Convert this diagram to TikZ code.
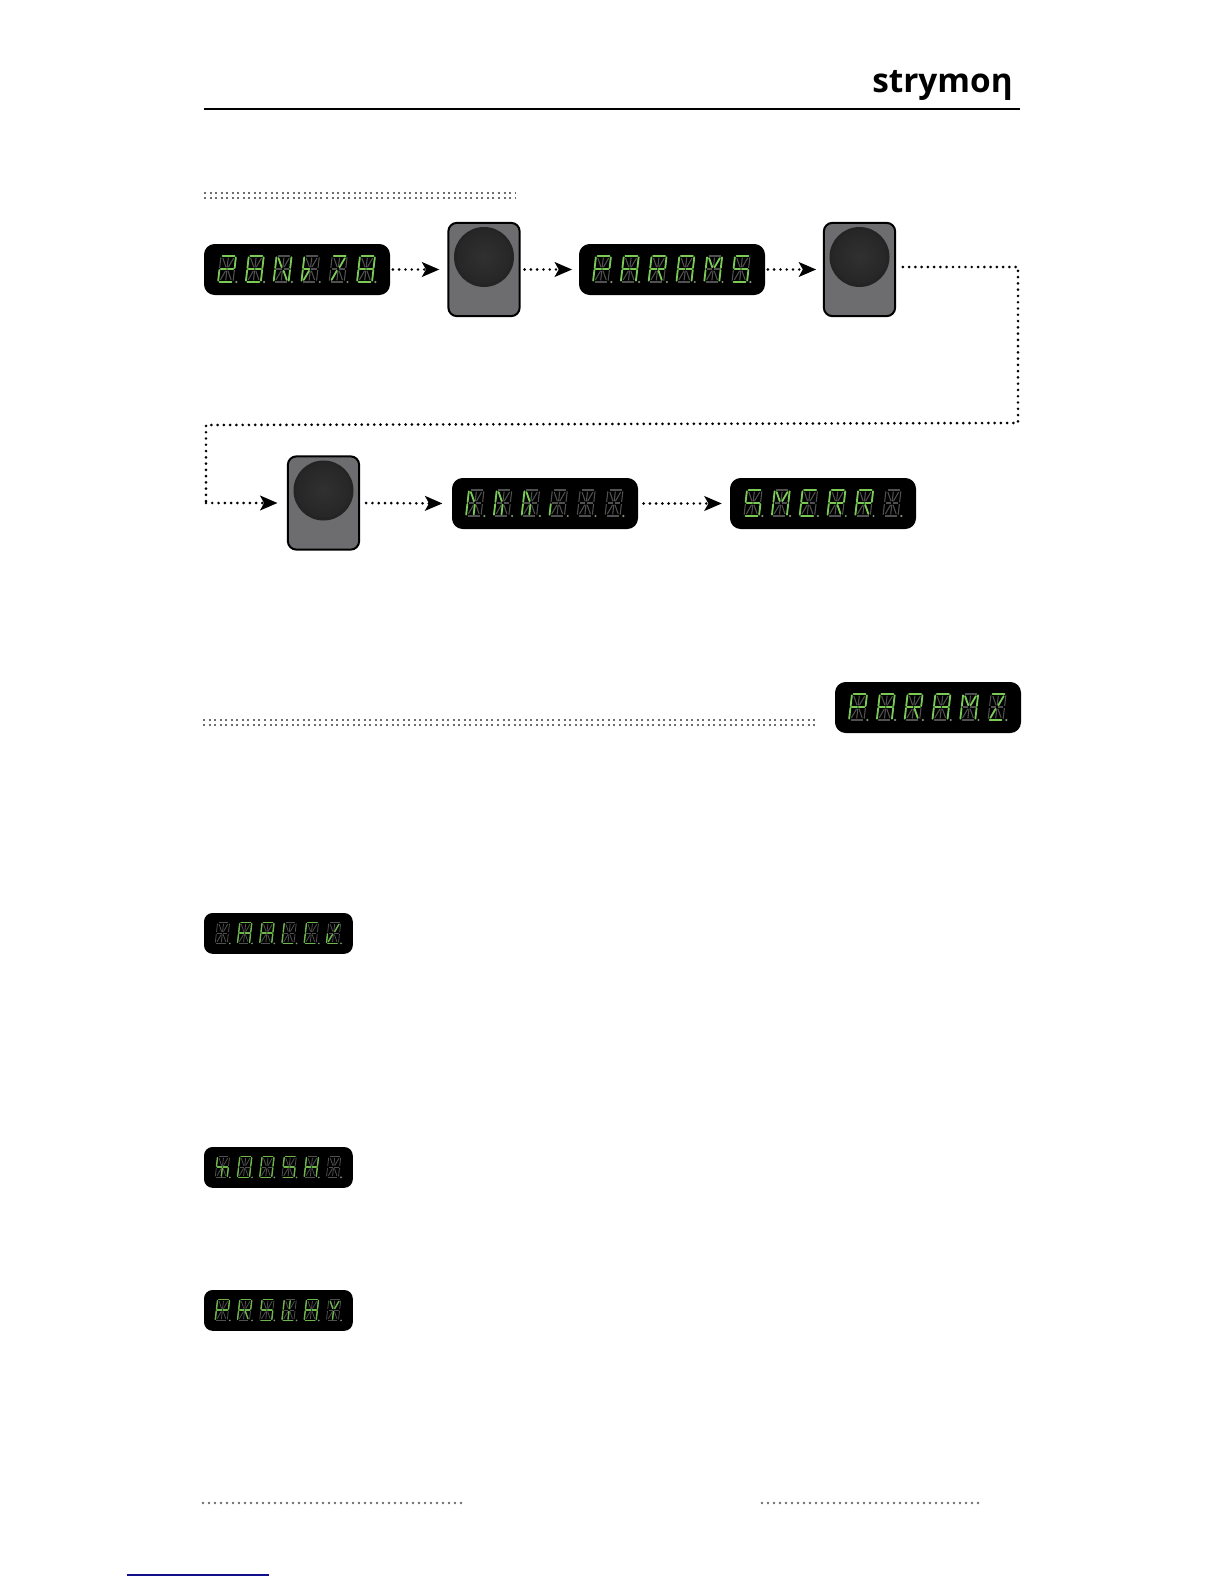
\documentclass[tikz,border=0pt]{standalone}
\usepackage{fontspec}
\newfontfamily\logofont{Open Sans}
\usetikzlibrary{arrows.meta}
\definecolor{litgreen}{HTML}{7ACA55}
\definecolor{unlit}{HTML}{505050}
\definecolor{dotgray}{HTML}{6E6E6E}
\definecolor{btnfill}{HTML}{6D6C6E}
\definecolor{linkblue}{HTML}{10108C}
\tikzset{
  lcdbox/.style={fill=black,inner sep=0pt,draw=none},
  btnbox/.style={fill=btnfill,draw=black,line width=1.5pt,rounded corners=6.5pt,inner sep=0pt,
    minimum width=53.5pt,minimum height=70pt},
  knobrim/.style={circle,fill=black!86,inner sep=0pt,minimum size=45pt},
  seglit/.style={draw=litgreen,line width=1.35pt,line cap=round},
  segoff/.style={draw=unlit,line width=.8pt},
  seglits/.style={draw=litgreen!90!black,line width=1.05pt,line cap=round},
  segoffs/.style={draw=unlit,line width=.6pt},
  dotband/.style={draw=dotgray,line width=1.5pt,dash pattern=on 1.5pt off 2.66pt},
  dotrule/.style={draw=dotgray,line width=2.1pt,line cap=round,dash pattern=on 0pt off 4.5pt},
  flow/.style={draw=black,line width=2.2pt,line cap=round,dash pattern=on 0pt off 4.7pt,
    -{Stealth[length=13pt,width=11pt,inset=3pt]}},
  flowline/.style={draw=black,line width=2.2pt,line cap=round,dash pattern=on 0pt off 4.7pt},
}
% the fourteen segments and the point of one display digit
\def\lcsa#1{\draw[#1](.1,0)--(.9,0);}
\def\lcsb#1{\draw[#1](1,.05)--(1,.46);}
\def\lcsc#1{\draw[#1](1,.54)--(1,.95);}
\def\lcsd#1{\draw[#1](.1,1)--(.9,1);}
\def\lcse#1{\draw[#1](0,.54)--(0,.95);}
\def\lcsf#1{\draw[#1](0,.05)--(0,.46);}
\def\lcsg#1{\draw[#1](.08,.5)--(.44,.5);}
\def\lcsh#1{\draw[#1](.56,.5)--(.92,.5);}
\def\lcsi#1{\draw[#1](.14,.08)--(.42,.43);}
\def\lcsj#1{\draw[#1](.5,.06)--(.5,.44);}
\def\lcsk#1{\draw[#1](.86,.08)--(.58,.43);}
\def\lcsl#1{\draw[#1](.42,.57)--(.14,.92);}
\def\lcsm#1{\draw[#1](.5,.56)--(.5,.94);}
\def\lcsn#1{\draw[#1](.58,.57)--(.86,.92);}
\def\lcsz#1{}
% name, left, top, scale, off style, lit style, digits
\newcommand\lcd[7]{%
  \node[lcdbox,rounded corners=#4*8pt,minimum width=#4*139.5pt,minimum height=#4*38.25pt]
    (#1) at (#2+93*#4,#3+25.5*#4) {};
  \foreach \dig [count=\n from 0] in {#7}{%
    \begin{scope}[shift={(#2+17*#4+27.8*#4*\n,#3+12*#4)},
        x={(#4*11.25pt,0pt)},y={(-#4*2.25pt,-#4*19.5pt)}]
      \foreach \sg in {a,b,c,d,e,f,g,h,i,j,k,l,m,n}{\csname lcs\sg\endcsname{#5}}
      \foreach \sg in \dig {\csname lcs\sg\endcsname{#6}}
      \fill[gray!70!litgreen] (1.22,1) circle[radius=#4*.9pt];
    \end{scope}}%
}
\newcommand\btn[3]{%
  \node[btnbox] (#1) at (#2,#3) {};
  \node[knobrim] (#1k) at (#2,#3-12.5) {};
  \shade[inner color=black!81,outer color=black!85] (#1k.center) ++(0,-.5) circle[radius=20.5pt];
}
\begin{document}
\begin{tikzpicture}[x=.75pt,y=-.75pt]
\useasboundingbox (0,0) rectangle (1224,1584);
\fill[white] (0,0) rectangle (1224,1584);

% header
\node[inner sep=0pt,anchor=base east,font=\logofont\bfseries\fontsize{25}{25}\selectfont] (logo) at (1013,93) {strymoη};
\coordinate (ruleL) at (204,109);
\coordinate (ruleR) at (1020,109);
\draw[black,line width=1.3pt] (ruleL) -- (ruleR);

% dotted bands
\coordinate (b1a) at (204,193); \coordinate (b1b) at (515,193);
\coordinate (b1c) at (204,198); \coordinate (b1d) at (515,198);
\draw[dotband] (b1a) -- (b1b);
\draw[dotband] (b1c) -- (b1d);
\coordinate (b2a) at (203,720); \coordinate (b2b) at (816,720);
\coordinate (b2c) at (203,725); \coordinate (b2d) at (816,725);
\draw[dotband] (b2a) -- (b2b);
\draw[dotband] (b2c) -- (b2d);

% displays
\lcd{d1}{204}{244}{1}{segoff}{seglit}{{a,b,g,h,e,d},{a,b,c,d,e,f,g,h},{e,f,b,c,i,n},{e,f,g,l},{a,k,l},{a,b,c,d,e,f,g,h}}
\lcd{d2}{579}{244}{1}{segoff}{seglit}{{a,b,e,f,g,h},{a,b,c,e,f,g,h},{a,b,e,f,g,h,n},{a,b,c,e,f,g,h},{b,c,e,f,i,k},{a,f,g,h,c,d}}
\lcd{d3}{452}{478}{1}{segoff}{seglit}{{f,e,i,m},{f,e,i,m},{f,e,i,m},{e},{z},{z}}
\lcd{d4}{730}{478}{1}{segoff}{seglit}{{a,f,g,h,c,d},{b,c,e,f,i,k},{a,f,g,e,d},{a,b,e,f,g,h,n},{a,b,e,f,g,h,n},{z}}
\lcd{d5}{835}{682}{1}{segoff}{seglit}{{a,b,e,f,g,h},{a,b,c,e,f,g,h},{a,b,e,f,g,h,n},{a,b,c,e,f,g,h},{b,c,e,f,i,k},{a,k,l,d}}
\lcd{s1}{204}{913}{.8}{segoffs}{seglits}{{z},{a,b,c,e,f,g,h},{a,b,c,e,f,g,h},{e,f,d},{a,e,f,d},{k,l,e,d}}
\lcd{s2}{204}{1147}{.8}{segoffs}{seglits}{{f,g,h,c,m},{a,b,c,d,e,f},{a,b,c,d,e,f},{a,f,g,h,c,d},{b,c,e,f,g,h},{z}}
\lcd{s3}{204}{1290}{.8}{segoffs}{seglits}{{a,b,e,f,g,h},{a,b,e,f,g,h,n},{a,f,g,h,c,d},{e,f,d,j,m},{a,b,c,d,e,f,g,h},{i,k,m}}

% footswitches
\btn{k1}{484}{269.5}
\btn{k2}{859.5}{269.5}
\btn{k3}{323.5}{503}

% connectors
\coordinate (c1) at (1018,267);
\coordinate (c2) at (1018,423);
\coordinate (c3) at (206,425);
\coordinate (c4) at (206,503);
\draw[flow,shorten <=2pt,shorten >=6pt] (d1.east) -- (k1.west);
\draw[flow,shorten <=3pt,shorten >=5pt] (k1.east) -- (d2.west);
\draw[flow,shorten <=2pt,shorten >=5pt] (d2.east) -- (k2.west);
\draw[flowline,shorten <=5pt] (k2.east |- c1) -- (c1) -- (c2) -- (c3) -- (c4);
\draw[flow,shorten >=7pt] (c4) -- (k3.west);
\draw[flow,shorten <=4.5pt,shorten >=7pt] (k3.east) -- (d3.west);
\draw[flow,shorten <=4pt,shorten >=6pt] (d3.east) -- (d4.west);

% footer
\coordinate (f1a) at (203,1503); \coordinate (f1b) at (463,1503);
\coordinate (f2a) at (762,1503); \coordinate (f2b) at (980,1503);
\draw[dotrule] (f1a) -- (f1b);
\draw[dotrule] (f2a) -- (f2b);
\coordinate (u1) at (127,1575); \coordinate (u2) at (269,1575);
\draw[linkblue,line width=.8pt] (u1) -- (u2);
\end{tikzpicture}
\end{document}
